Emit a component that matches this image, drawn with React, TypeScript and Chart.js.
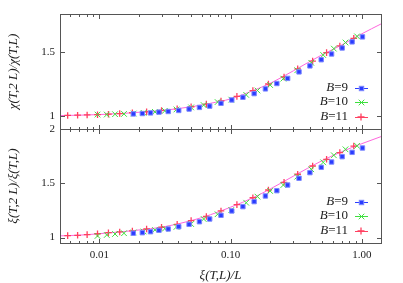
import React, { useEffect, useRef } from 'react';
import { Chart, registerables } from 'chart.js';
Chart.register(...registerables);

// ---------- data ----------
const xTickValues = [0.01, 0.1, 1];
const xMinorTicks = [0.006, 0.007, 0.008, 0.009, 0.02, 0.03, 0.04, 0.05, 0.06, 0.07, 0.08, 0.09, 0.2, 0.3, 0.4, 0.5, 0.6, 0.7, 0.8, 0.9];
const yTicksTop = [1, 1.5];
const yTicksBottom = [1, 1.5, 2];

const seriesLabels = ['9', '10', '11'];

const xB9 = [0.0181, 0.0212, 0.0245, 0.0284, 0.0334, 0.0402, 0.0482, 0.0578, 0.0692, 0.0844, 0.102, 0.124, 0.151, 0.184, 0.225, 0.272, 0.332, 0.402, 0.49, 0.588, 0.708, 0.843, 1.011];
const chiB9 = [1.018, 1.021, 1.026, 1.032, 1.037, 1.045, 1.056, 1.069, 1.079, 1.101, 1.127, 1.148, 1.177, 1.214, 1.256, 1.296, 1.347, 1.394, 1.442, 1.487, 1.534, 1.582, 1.621];
const xiB9 = [1.04, 1.045, 1.054, 1.067, 1.079, 1.1, 1.122, 1.146, 1.171, 1.205, 1.245, 1.285, 1.331, 1.383, 1.432, 1.484, 1.546, 1.598, 1.647, 1.696, 1.745, 1.785, 1.825];

const xB10 = [0.00966, 0.01136, 0.01314, 0.01538, 0.01822, 0.0217, 0.02644, 0.03149, 0.03863, 0.04995, 0.06227, 0.07952, 0.1011, 0.1314, 0.1601, 0.1999, 0.2522, 0.3221, 0.4115, 0.5076, 0.6118, 0.7505, 0.9197];
const chiB10 = [1.013, 1.013, 1.016, 1.018, 1.021, 1.026, 1.034, 1.042, 1.053, 1.069, 1.087, 1.111, 1.13, 1.167, 1.201, 1.244, 1.294, 1.36, 1.418, 1.479, 1.529, 1.577, 1.625];
const xiB10 = [1.015, 1.024, 1.033, 1.04, 1.047, 1.056, 1.07, 1.082, 1.098, 1.125, 1.171, 1.215, 1.254, 1.321, 1.377, 1.429, 1.484, 1.561, 1.629, 1.693, 1.758, 1.813, 1.845];

const xB11 = [0.00572, 0.00681, 0.00805, 0.00966, 0.0117, 0.01426, 0.01781, 0.02287, 0.02972, 0.03911, 0.04995, 0.06527, 0.08439, 0.1116, 0.1477, 0.194, 0.2553, 0.3243, 0.4217, 0.5386, 0.6797, 0.8679];
const chiB11 = [1.006, 1.008, 1.01, 1.012, 1.016, 1.021, 1.027, 1.035, 1.045, 1.058, 1.074, 1.095, 1.119, 1.155, 1.201, 1.252, 1.307, 1.371, 1.431, 1.498, 1.55, 1.609];
const xiB11 = [1.018, 1.021, 1.027, 1.035, 1.045, 1.052, 1.061, 1.079, 1.095, 1.122, 1.156, 1.194, 1.245, 1.303, 1.367, 1.438, 1.509, 1.583, 1.659, 1.721, 1.782, 1.843];

const xCurve = [0.005, 0.007, 0.01, 0.015, 0.02, 0.03, 0.05, 0.07, 0.1, 0.15, 0.2, 0.3, 0.5, 0.7, 1.0, 1.4];
const chiCurve = [1.005, 1.008, 1.013, 1.022, 1.031, 1.045, 1.074, 1.101, 1.136, 1.203, 1.257, 1.355, 1.482, 1.557, 1.645, 1.722];
const xiCurve = [1.016, 1.022, 1.036, 1.054, 1.07, 1.096, 1.156, 1.21, 1.28, 1.37, 1.447, 1.565, 1.71, 1.79, 1.865, 1.93];

// ---------- styles ----------
const SERIF = "'Liberation Serif', 'DejaVu Serif', serif";
const BLUE = '#2a3cff';
const BLUE_EDGE = '#7c88ff';
const GREEN = '#3fe03f';
const RED = '#ff4060';
const PINK = '#ff66dd';
const FRAME = '#555555';
const TEXT = '#222222';

const toPts = (xs: number[], ys: number[]) => xs.map((x, i) => ({ x, y: ys[i] }));

function drawMarker(ctx: CanvasRenderingContext2D, kind: number, cx: number, cy: number) {
  ctx.save();
  ctx.lineWidth = 1;
  if (kind === 0) {
    ctx.fillStyle = BLUE;
    ctx.strokeStyle = BLUE_EDGE;
    ctx.fillRect(cx - 2.2, cy - 2.2, 4.4, 4.4);
    ctx.strokeRect(cx - 2.2, cy - 2.2, 4.4, 4.4);
  } else if (kind === 1) {
    ctx.strokeStyle = GREEN;
    ctx.beginPath();
    ctx.moveTo(cx - 2.8, cy - 2.8); ctx.lineTo(cx + 2.8, cy + 2.8);
    ctx.moveTo(cx - 2.8, cy + 2.8); ctx.lineTo(cx + 2.8, cy - 2.8);
    ctx.stroke();
  } else {
    ctx.strokeStyle = RED;
    ctx.lineWidth = 1.3;
    ctx.beginPath();
    ctx.moveTo(cx - 3.5, cy); ctx.lineTo(cx + 3.5, cy);
    ctx.moveTo(cx, cy - 3.5); ctx.lineTo(cx, cy + 3.5);
    ctx.stroke();
  }
  ctx.restore();
}

const decorPlugin = (yTicks: number[], isTop: boolean) => ({
  id: 'decor' + (isTop ? 'Top' : 'Bottom'),
  afterDraw(chart: any) {
    const { ctx, chartArea } = chart;
    const xs = chart.scales.x;
    const ys = chart.scales.y;
    const L = Math.round(chartArea.left) + 0.5;
    const R = Math.round(chartArea.right) + 0.5;
    const T = Math.round(chartArea.top) + 0.5;
    const B = Math.round(chartArea.bottom) + 0.5;
    ctx.save();
    ctx.strokeStyle = FRAME;
    ctx.lineWidth = 1;
    ctx.strokeRect(L, T, R - L, B - T);
    ctx.beginPath();
    const xt = (v: number, len: number) => {
      const p = Math.round(xs.getPixelForValue(v)) + 0.5;
      ctx.moveTo(p, T); ctx.lineTo(p, T + len);
      ctx.moveTo(p, B); ctx.lineTo(p, B - len);
    };
    xTickValues.forEach((v) => xt(v, 4.5));
    xMinorTicks.forEach((v) => xt(v, 2.5));
    yTicks.forEach((v) => {
      const p = Math.round(ys.getPixelForValue(v)) + 0.5;
      ctx.moveTo(L, p); ctx.lineTo(L + 4.5, p);
      ctx.moveTo(R, p); ctx.lineTo(R - 4.5, p);
    });
    ctx.stroke();

    // legend
    const rows = [chartArea.bottom - 41.5, chartArea.bottom - 27, chartArea.bottom - 12];
    const textRight = 348;
    const colors = [BLUE, GREEN, RED];
    ctx.textBaseline = 'middle';
    seriesLabels.forEach((lab, i) => {
      const y = rows[i];
      ctx.font = `italic 13px ${SERIF}`;
      const wB = ctx.measureText('B').width;
      ctx.font = `13px ${SERIF}`;
      const rest = '=' + lab;
      const wR = ctx.measureText(rest).width;
      const x0 = textRight - wB - wR;
      ctx.fillStyle = TEXT;
      ctx.font = `italic 13px ${SERIF}`;
      ctx.fillText('B', x0, y);
      ctx.font = `13px ${SERIF}`;
      ctx.fillText(rest, x0 + wB, y);
      ctx.strokeStyle = colors[i];
      ctx.lineWidth = 1;
      ctx.beginPath();
      ctx.moveTo(355, Math.round(y) + 0.5);
      ctx.lineTo(368, Math.round(y) + 0.5);
      ctx.stroke();
      drawMarker(ctx, i, i === 2 ? 361 : 361.5, i === 2 ? Math.round(y) : Math.round(y) + 0.5);
    });
    ctx.restore();
  },
});

function buildConfig(isTop: boolean): any {
  const datasets: any[] = [
    {
      label: 'B=9',
      data: toPts(xB9, isTop ? chiB9 : xiB9),
      pointStyle: 'rect',
      pointRadius: 3.1,
      backgroundColor: BLUE,
      borderColor: BLUE_EDGE,
      borderWidth: 1,
      showLine: false,
    },
    {
      label: 'B=10',
      data: toPts(xB10, isTop ? chiB10 : xiB10),
      pointStyle: 'crossRot',
      pointRadius: 4,
      borderColor: GREEN,
      backgroundColor: GREEN,
      borderWidth: 1,
      showLine: false,
    },
    {
      label: 'B=11',
      data: toPts(xB11, isTop ? chiB11 : xiB11),
      pointStyle: 'cross',
      pointRadius: 3.3,
      borderColor: RED,
      backgroundColor: RED,
      borderWidth: 1.3,
      showLine: false,
    },
    {
      label: 'fit',
      data: toPts(xCurve, isTop ? chiCurve : xiCurve),
      showLine: true,
      pointRadius: 0,
      borderColor: PINK,
      borderWidth: 1,
      tension: 0.4,
      cubicInterpolationMode: 'monotone',
    },
  ];
  const yTicks = isTop ? yTicksTop : yTicksBottom;
  return {
    type: 'scatter',
    data: { datasets },
    options: {
      animation: false,
      responsive: false,
      devicePixelRatio: 1,
      events: [],
      layout: {
        padding: isTop
          ? { top: 14, right: 22, bottom: 154, left: 0 }
          : { top: 129, right: 22, bottom: 0, left: 0 },
      },
      plugins: { legend: { display: false }, tooltip: { enabled: false } },
      scales: {
        x: {
          type: 'logarithmic',
          min: 0.005,
          max: 1.4,
          display: !isTop,
          afterBuildTicks: (s: any) => {
            s.ticks = xTickValues.map((v) => ({ value: v }));
          },
          afterFit: (s: any) => {
            s.height = isTop ? 0 : 40;
          },
          grid: { display: false, drawTicks: false },
          border: { display: false },
          ticks: {
            autoSkip: false,
            maxRotation: 0,
            padding: 6,
            color: TEXT,
            font: { family: SERIF, size: 11 },
            callback: (v: any) => Number(v).toFixed(2),
          },
          title: {
            display: true,
            text: 'ξ(T,L)/L',
            color: TEXT,
            padding: 0,
            font: { family: SERIF, size: 13, style: 'italic' },
          },
        },
        y: {
          type: 'linear',
          min: isTop ? 0.9 : 0.95,
          max: isTop ? 1.8 : 2.0,
          afterBuildTicks: (s: any) => {
            s.ticks = yTicks.map((v) => ({ value: v }));
          },
          afterFit: (s: any) => {
            s.width = 60;
          },
          grid: { display: false, drawTicks: false },
          border: { display: false },
          ticks: {
            padding: 5,
            color: TEXT,
            font: { family: SERIF, size: 11 },
            callback: (v: any) => String(v),
          },
          title: {
            display: true,
            text: isTop ? 'χ(T,2 L)/χ(T,L)' : 'ξ(T,2 L)/ξ(T,L)',
            color: TEXT,
            padding: { top: 6, bottom: 0 },
            font: { family: SERIF, size: 13, style: 'italic' },
          },
        },
      },
    },
    plugins: [decorPlugin(yTicks, isTop)],
  };
}

export default function App() {
  const topRef = useRef<HTMLCanvasElement>(null);
  const botRef = useRef<HTMLCanvasElement>(null);
  useEffect(() => {
    const c1 = new Chart(topRef.current as HTMLCanvasElement, buildConfig(true));
    const c2 = new Chart(botRef.current as HTMLCanvasElement, buildConfig(false));
    return () => {
      c1.destroy();
      c2.destroy();
    };
  }, []);
  const cs: React.CSSProperties = { position: 'absolute', left: 0, top: 0, width: 403, height: 283 };
  return (
    <div style={{ position: 'fixed', left: 0, top: 0, width: 403, height: 283, background: '#fff' }}>
      <canvas ref={topRef} width={403} height={283} style={cs} />
      <canvas ref={botRef} width={403} height={283} style={cs} />
    </div>
  );
}
